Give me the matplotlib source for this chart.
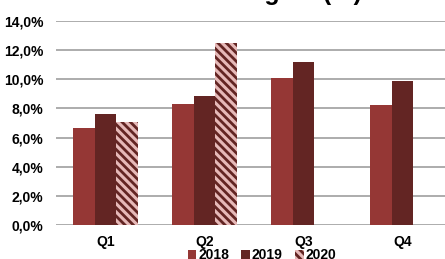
import matplotlib
matplotlib.use('Agg')
import matplotlib.pyplot as plt
import numpy as np

quarters = ['Q1', 'Q2', 'Q3', 'Q4']
years = ['2018', '2019', '2020']
m2018 = [6.66, 8.28, 10.07, 8.25]
m2019 = [7.62, 8.85, 11.2, 9.86]
m2020 = [7.09, 12.46, np.nan, np.nan]
yticks = [0, 2, 4, 6, 8, 10, 12, 14]

plt.rcParams['font.family'] = ['Liberation Sans', 'DejaVu Sans']
plt.rcParams['font.weight'] = 'bold'
plt.rcParams['hatch.linewidth'] = 2.0

fig = plt.figure(figsize=(4.45, 2.59), dpi=100)
ax = fig.add_axes([56 / 445, 1 - 225 / 259, 396 / 445, 204 / 259])

x = np.arange(len(quarters))
w = 0.222
ax.bar(x - w, m2018, w, color='#953735', label=years[0], zorder=3)
ax.bar(x, m2019, w, color='#632523', label=years[1], zorder=3)
ax.bar(x + w, m2020, w, color='#e6b9b8', edgecolor='#632523', linewidth=0,
       hatch='\\\\\\\\', label=years[2], zorder=3)

ax.set_xlim(-0.5, len(quarters) - 0.5)
ax.set_ylim(0, 14)
ax.set_yticks(yticks)
ax.set_yticklabels([f'{v:.1f}%'.replace('.', ',') for v in yticks])
ax.set_xticks(x)
ax.set_xticklabels(quarters)
ax.tick_params(axis='both', length=0, labelsize=10)
ax.tick_params(axis='y', pad=9)
ax.tick_params(axis='x', pad=7)
ax.grid(axis='y', color='#a6a6a6', linewidth=1.3, zorder=0)
ax.set_axisbelow(True)
for s in ax.spines.values():
    s.set_visible(False)

fig.text(362 / 445, 1.0, 'Margem (%)', ha='right', va='baseline',
         fontsize=18, fontweight='bold')

fig.legend(loc='center', bbox_to_anchor=(262 / 445, 0.015), ncol=3, frameon=False,
           fontsize=10, handlelength=0.6, handleheight=0.6, handletextpad=0.15,
           columnspacing=0.9, borderpad=0)

fig.savefig('out.png', dpi=100)
